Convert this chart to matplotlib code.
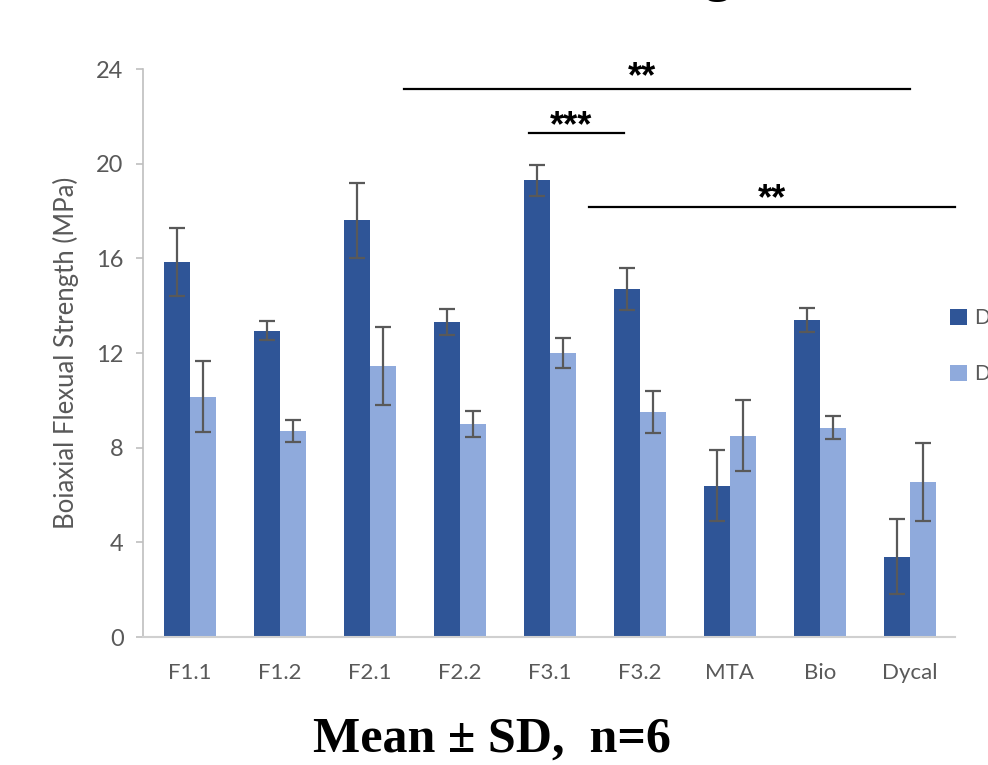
import numpy as np
import matplotlib
matplotlib.use('Agg')
import matplotlib.pyplot as plt

groups = ['F1.1', 'F1.2', 'F2.1', 'F2.2', 'F3.1', 'F3.2', 'MTA', 'Bio', 'Dycal']
legend_labels = ['DC', 'D']

dark_mean = [15.85, 12.95, 17.6, 13.3, 19.3, 14.7, 6.4, 13.4, 3.4]
dark_sd = [1.45, 0.4, 1.6, 0.55, 0.65, 0.9, 1.5, 0.5, 1.6]
light_mean = [10.15, 8.7, 11.45, 9.0, 12.0, 9.5, 8.5, 8.85, 6.55]
light_sd = [1.5, 0.45, 1.65, 0.55, 0.65, 0.9, 1.5, 0.5, 1.65]

# significance brackets: line from x0 to x1 at height y, stars text
sig_x0 = [2.38, 3.77, 4.43]
sig_x1 = [8.0, 4.82, 8.5]
sig_y = [23.15, 21.3, 18.17]
sig_text = ['**', '***', '**']
sig_text_x = [5.02, 4.24, 6.47]

dark_color = '#2F5597'
light_color = '#8FAADC'
grey = '#595959'

plt.rcParams['font.family'] = ['Lato', 'DejaVu Sans']

fig = plt.figure(figsize=(9.88, 7.65), dpi=100)
ax = fig.add_axes([143 / 988, 1 - 637 / 765, (955 - 143) / 988, (637 - 69) / 765])

index = np.arange(len(groups))
bar_width = 0.29

ax.bar(index - bar_width / 2, dark_mean, bar_width, color=dark_color,
       yerr=dark_sd, ecolor=grey, capsize=6,
       error_kw=dict(elinewidth=1.6, capthick=1.6), label=legend_labels[0])
ax.bar(index + bar_width / 2, light_mean, bar_width, color=light_color,
       yerr=light_sd, ecolor=grey, capsize=6,
       error_kw=dict(elinewidth=1.6, capthick=1.6), label=legend_labels[1])

# star offsets so the glyphs sit just above each line
star_drop = [-0.08, 0.15, 0.08]
for i in range(len(sig_text)):
    ax.plot([sig_x0[i], sig_x1[i]], [sig_y[i], sig_y[i]], color='black',
            lw=1.6, clip_on=False)
    ax.text(sig_text_x[i], sig_y[i] - star_drop[i], sig_text[i], ha='center',
            va='baseline', fontsize=26, fontweight='bold',
            family='Liberation Sans', clip_on=False)

ax.set_xlim(-0.52, 8.5)
ax.set_ylim(0, 24)
ax.set_yticks([0, 4, 8, 12, 16, 20, 24])
ax.set_xticks(index)
ax.set_xticklabels(groups)

for side in ['top', 'right']:
    ax.spines[side].set_visible(False)
ax.spines['left'].set_color('#BFBFBF')
ax.spines['bottom'].set_color('#D0D0D0')
ax.spines['left'].set_linewidth(1.2)
ax.spines['bottom'].set_linewidth(1.5)

ax.tick_params(axis='y', colors='#BFBFBF', labelcolor=grey, labelsize=17,
               length=5, width=1.2, pad=9)
ax.tick_params(axis='x', labelcolor=grey, labelsize=16, length=0, pad=19)

ax.set_ylabel('Boiaxial Flexual Strength (MPa)', color=grey, fontsize=18.5,
              labelpad=12)

fig.legend(loc='upper left', bbox_to_anchor=(950 / 988, 1 - 308 / 765),
           frameon=False, fontsize=15, borderpad=0, borderaxespad=0,
           handlelength=0.8, handleheight=0.8, handletextpad=0.35,
           labelspacing=1.75, labelcolor=grey)

# title above the visible region (only the descender of the g shows)
fig.text(776 / 988, 1 + 9.5 / 765, 'Biaxial Flexural Strength', ha='right',
         va='baseline', fontsize=37, fontweight='bold', family='Liberation Serif')

fig.text(492 / 988, 1 - 752 / 765, 'Mean \u00b1 SD,  n=6', ha='center',
         va='baseline', fontsize=36, fontweight='bold', family='Liberation Serif')

fig.savefig('out.png', dpi=100)
